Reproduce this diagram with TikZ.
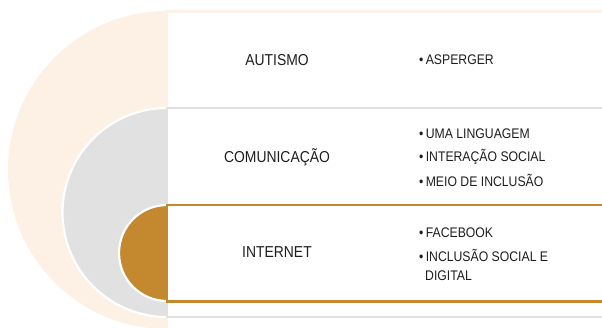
\documentclass[tikz,border=0pt]{standalone}
\usepackage{fontspec}
\setmainfont{Liberation Sans}[FakeStretch=0.88]
\definecolor{peach}{HTML}{FDF1E5}
\definecolor{lgray}{HTML}{E1E1E1}
\definecolor{brown}{HTML}{C4882F}
\definecolor{txt}{HTML}{1E1E1E}
\tikzset{
  lbl/.style={text=txt,font=\fontsize{15.8}{18}\selectfont,inner sep=0pt},
  item/.style={text=txt,font=\fontsize{13.9}{16}\selectfont,inner sep=0pt,anchor=west},
}
\begin{document}
\begin{tikzpicture}[x=1pt,y=-1pt]
\useasboundingbox (0,0) rectangle (602,327);
\begin{scope}
\clip (0,0) rectangle (602,327);
% target rings
\fill[peach] (167,170) circle (159);
\draw[white,line width=2.2pt,fill=lgray] (167,212.5) circle (104.5);
\draw[white,line width=2.2pt,fill=brown] (167,253) circle (48);
% nested rectangles
\draw[peach,line width=2.8pt,fill=white] (167,11.5) rectangle (612,345);
\draw[lgray,line width=2.8pt] (167,108) rectangle (612,317);
\draw[brown,line width=2.8pt] (167,205) rectangle (612,301.5);
\end{scope}
% labels
\node[lbl] (autismo) at (277,60) {AUTISMO};
\node[lbl] (comunicacao) at (277,157) {COMUNICAÇÃO};
\node[lbl] (internet) at (277,252) {INTERNET};
% items
\node[item] (i1) at (419,60) {•\,ASPERGER};
\node[item] (i2) at (419,134) {•\,UMA LINGUAGEM};
\node[item] (i3) at (419,157) {•\,INTERAÇÃO SOCIAL};
\node[item] (i4) at (419,180) {•\,MEIO DE INCLUSÃO};
\node[item] (i5) at (419,232.5) {•\,FACEBOOK};
\node[item] (i6) at (419,255) {•\,INCLUSÃO SOCIAL E};
\node[item] (i7) at (425,275.5) {DIGITAL};
\end{tikzpicture}
\end{document}
